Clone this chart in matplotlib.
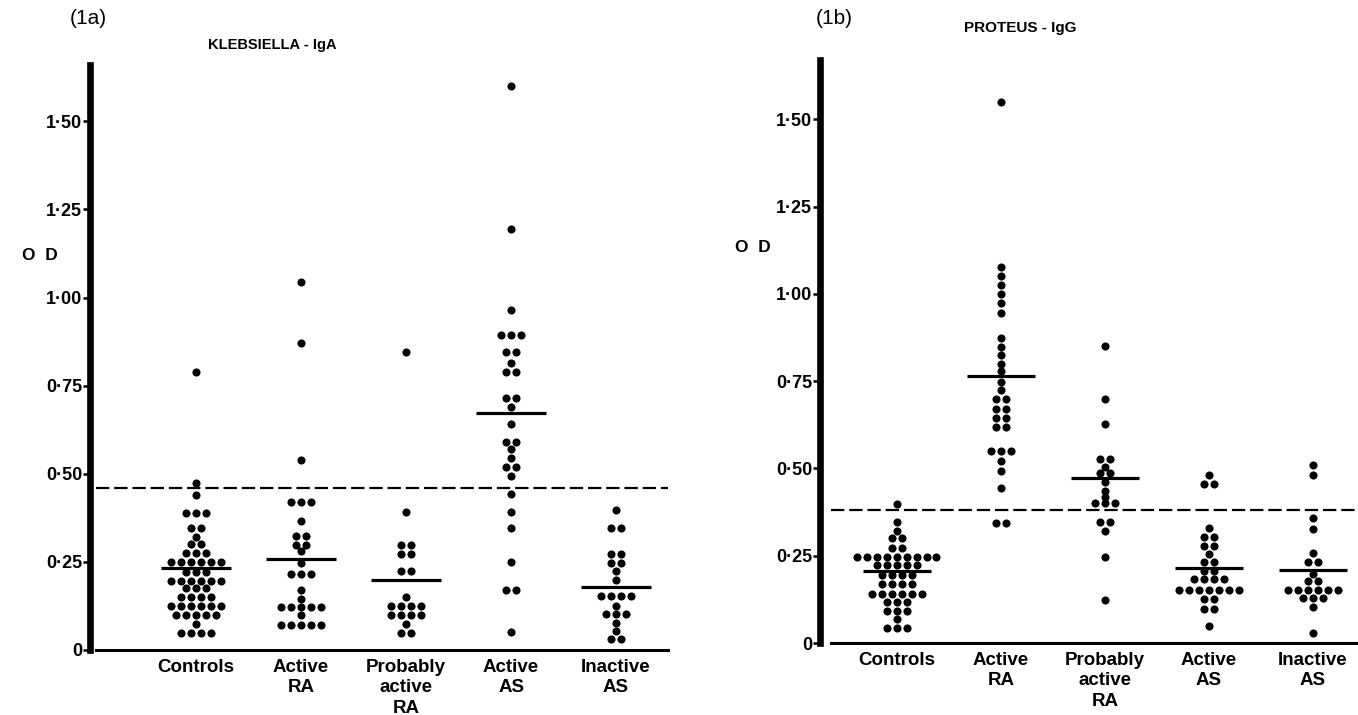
import matplotlib.pyplot as plt
import matplotlib.transforms as mtransforms
import numpy as np

plt.rcParams['font.family'] = ['Liberation Sans', 'DejaVu Sans']
plt.rcParams['font.weight'] = 'bold'

groups = ["Controls", "Active\nRA", "Probably\nactive\nRA", "Active\nAS", "Inactive\nAS"]
yticks = [0, 0.25, 0.50, 0.75, 1.00, 1.25, 1.50]
ytick_labels = ["0", "0·25", "0·50", "0·75", "1·00", "1·25", "1·50"]

# (1a) Klebsiella - IgA, OD values
kleb_controls = [0.79, 0.475, 0.44, 0.39, 0.39, 0.39, 0.345, 0.345, 0.32, 0.30, 0.30,
                 0.275, 0.275, 0.275, 0.25, 0.25, 0.25, 0.25, 0.25, 0.25,
                 0.22, 0.22, 0.22, 0.197, 0.197, 0.197, 0.197, 0.197, 0.197,
                 0.175, 0.175, 0.175, 0.15, 0.15, 0.15, 0.15,
                 0.124, 0.124, 0.124, 0.124, 0.124, 0.124,
                 0.098, 0.098, 0.098, 0.098, 0.098, 0.073, 0.047, 0.047, 0.047, 0.047]
kleb_active_ra = [1.045, 0.87, 0.54, 0.42, 0.42, 0.42, 0.367, 0.323, 0.323, 0.297, 0.297,
                  0.28, 0.246, 0.217, 0.217, 0.217, 0.17, 0.145,
                  0.122, 0.122, 0.122, 0.122, 0.122, 0.098,
                  0.072, 0.072, 0.072, 0.072, 0.072]
kleb_prob_ra = [0.845, 0.393, 0.298, 0.298, 0.272, 0.272, 0.225, 0.225, 0.15,
                0.125, 0.125, 0.125, 0.125, 0.098, 0.098, 0.098, 0.098, 0.075, 0.049, 0.049]
kleb_active_as = [1.60, 1.195, 0.965, 0.895, 0.895, 0.895, 0.845, 0.845, 0.815, 0.79, 0.79,
                  0.716, 0.716, 0.69, 0.64, 0.59, 0.59, 0.57, 0.545, 0.52, 0.52, 0.495,
                  0.443, 0.393, 0.346, 0.25, 0.17, 0.17, 0.05]
kleb_inactive_as = [0.398, 0.346, 0.346, 0.272, 0.272, 0.246, 0.246, 0.223, 0.199,
                    0.152, 0.152, 0.152, 0.152, 0.126, 0.103, 0.103, 0.103, 0.077, 0.053, 0.03, 0.03]
kleb_means = [0.232, 0.258, 0.198, 0.672, 0.178]
kleb_cutoff = 0.46

# (1b) Proteus - IgG
prot_controls = [0.398, 0.348, 0.32, 0.30, 0.30, 0.273, 0.273,
                 0.245, 0.245, 0.245, 0.245, 0.245, 0.245, 0.245, 0.245, 0.245,
                 0.222, 0.222, 0.222, 0.222, 0.222, 0.194, 0.194, 0.194, 0.194,
                 0.168, 0.168, 0.168, 0.168, 0.141, 0.141, 0.141, 0.141, 0.141, 0.141,
                 0.117, 0.117, 0.117, 0.093, 0.093, 0.093, 0.069, 0.043, 0.043, 0.043]
prot_active_ra = [1.55, 1.078, 1.052, 1.026, 1.00, 0.974, 0.946, 0.874, 0.848, 0.825,
                  0.80, 0.78, 0.748, 0.724, 0.70, 0.70, 0.671, 0.671, 0.644, 0.644,
                  0.618, 0.618, 0.551, 0.551, 0.551, 0.522, 0.494, 0.443, 0.345, 0.345]
prot_prob_ra = [0.85, 0.70, 0.626, 0.527, 0.527, 0.503, 0.487, 0.487, 0.46, 0.436,
                0.417, 0.40, 0.40, 0.40, 0.348, 0.348, 0.32, 0.247, 0.123]
prot_active_as = [0.48, 0.455, 0.455, 0.328, 0.305, 0.305, 0.278, 0.278, 0.254,
                  0.232, 0.232, 0.205, 0.205, 0.182, 0.182, 0.182, 0.182,
                  0.153, 0.153, 0.153, 0.153, 0.153, 0.153, 0.153,
                  0.127, 0.127, 0.098, 0.098, 0.05]
prot_inactive_as = [0.51, 0.48, 0.357, 0.326, 0.257, 0.232, 0.232, 0.197, 0.177, 0.177,
                    0.153, 0.153, 0.153, 0.153, 0.153, 0.153, 0.13, 0.13, 0.13, 0.104, 0.029]
prot_means = [0.207, 0.765, 0.472, 0.215, 0.21]
prot_cutoff = 0.38

W, H = 1358, 715


def swarm(values, spacing=0.095):
    xs, ys = [], []
    vals, counts = np.unique(values, return_counts=True)
    for v, n in zip(vals, counts):
        xs.extend((np.arange(n) - (n - 1) / 2) * spacing)
        ys.extend([v] * n)
    return np.array(xs), np.array(ys)


def panel(rect, xlim, ylim, data, means, cutoff, line_start):
    ax = fig.add_axes(rect)
    for i, vals in enumerate(data):
        dx, y = swarm(vals)
        ax.scatter(i + dx, y, s=34, color='black', linewidths=0, zorder=3)
        ax.plot([i - 0.33, i + 0.33], [means[i], means[i]], color='black', lw=2.3,
                solid_capstyle='butt', zorder=4)
    ax.axhline(cutoff, xmin=line_start, xmax=1, color='black', lw=1.6,
               dashes=(6, 2.2), zorder=2)
    ax.axhline(0, xmin=line_start, xmax=1, color='black', lw=2.2, clip_on=False)
    ax.set_xlim(*xlim)
    ax.set_ylim(*ylim)
    for s in ['top', 'right', 'bottom']:
        ax.spines[s].set_visible(False)
    ax.spines['left'].set_linewidth(4.8)
    ax.set_xticks([])
    ax.set_yticks(yticks)
    ax.set_yticklabels(ytick_labels, fontsize=13, fontweight='bold')
    ax.tick_params(axis='y', direction='out', length=5, width=1.8, pad=0.5)
    trans = mtransforms.blended_transform_factory(ax.transData, ax.transAxes)
    for i, g in enumerate(groups):
        ax.text(i, -0.016, g, transform=trans, ha='center', va='top', fontsize=13.5,
                fontweight='bold', linespacing=1.24)
    return ax


fig = plt.figure(figsize=(W / 100, H / 100), dpi=100)

# left panel: spine at x=90 px, y=0 at 650 px, top 1.66 at 65 px
panel([90 / W, (H - 650) / H, 578 / W, 585 / H], (-1.01, 4.495), (0, 1.66),
      [kleb_controls, kleb_active_ra, kleb_prob_ra, kleb_active_as, kleb_inactive_as],
      kleb_means, kleb_cutoff, 0.01)
# right panel: spine at x=820 px, y=0 at 643 px, top 1.67 at 60 px
panel([820 / W, (H - 643) / H, 538 / W, 583 / H], (-0.74, 4.433), (0, 1.67),
      [prot_controls, prot_active_ra, prot_prob_ra, prot_active_as, prot_inactive_as],
      prot_means, prot_cutoff, 0.02)

fig.text(70 / W, 1 - 18 / H, "(1a)", fontsize=15, fontweight='normal', ha='left', va='center')
fig.text(272 / W, 1 - 45 / H, "KLEBSIELLA - IgA", fontsize=10.5, ha='center', va='center')
fig.text(22 / W, 1 - 255 / H, "O  D", fontsize=12.5, ha='left', va='center')

fig.text(816 / W, 1 - 18 / H, "(1b)", fontsize=15, fontweight='normal', ha='left', va='center')
fig.text(1020 / W, 1 - 28 / H, "PROTEUS - IgG", fontsize=11, ha='center', va='center')
fig.text(735 / W, 1 - 247 / H, "O  D", fontsize=12.5, ha='left', va='center')

fig.savefig("out.png", dpi=100)
